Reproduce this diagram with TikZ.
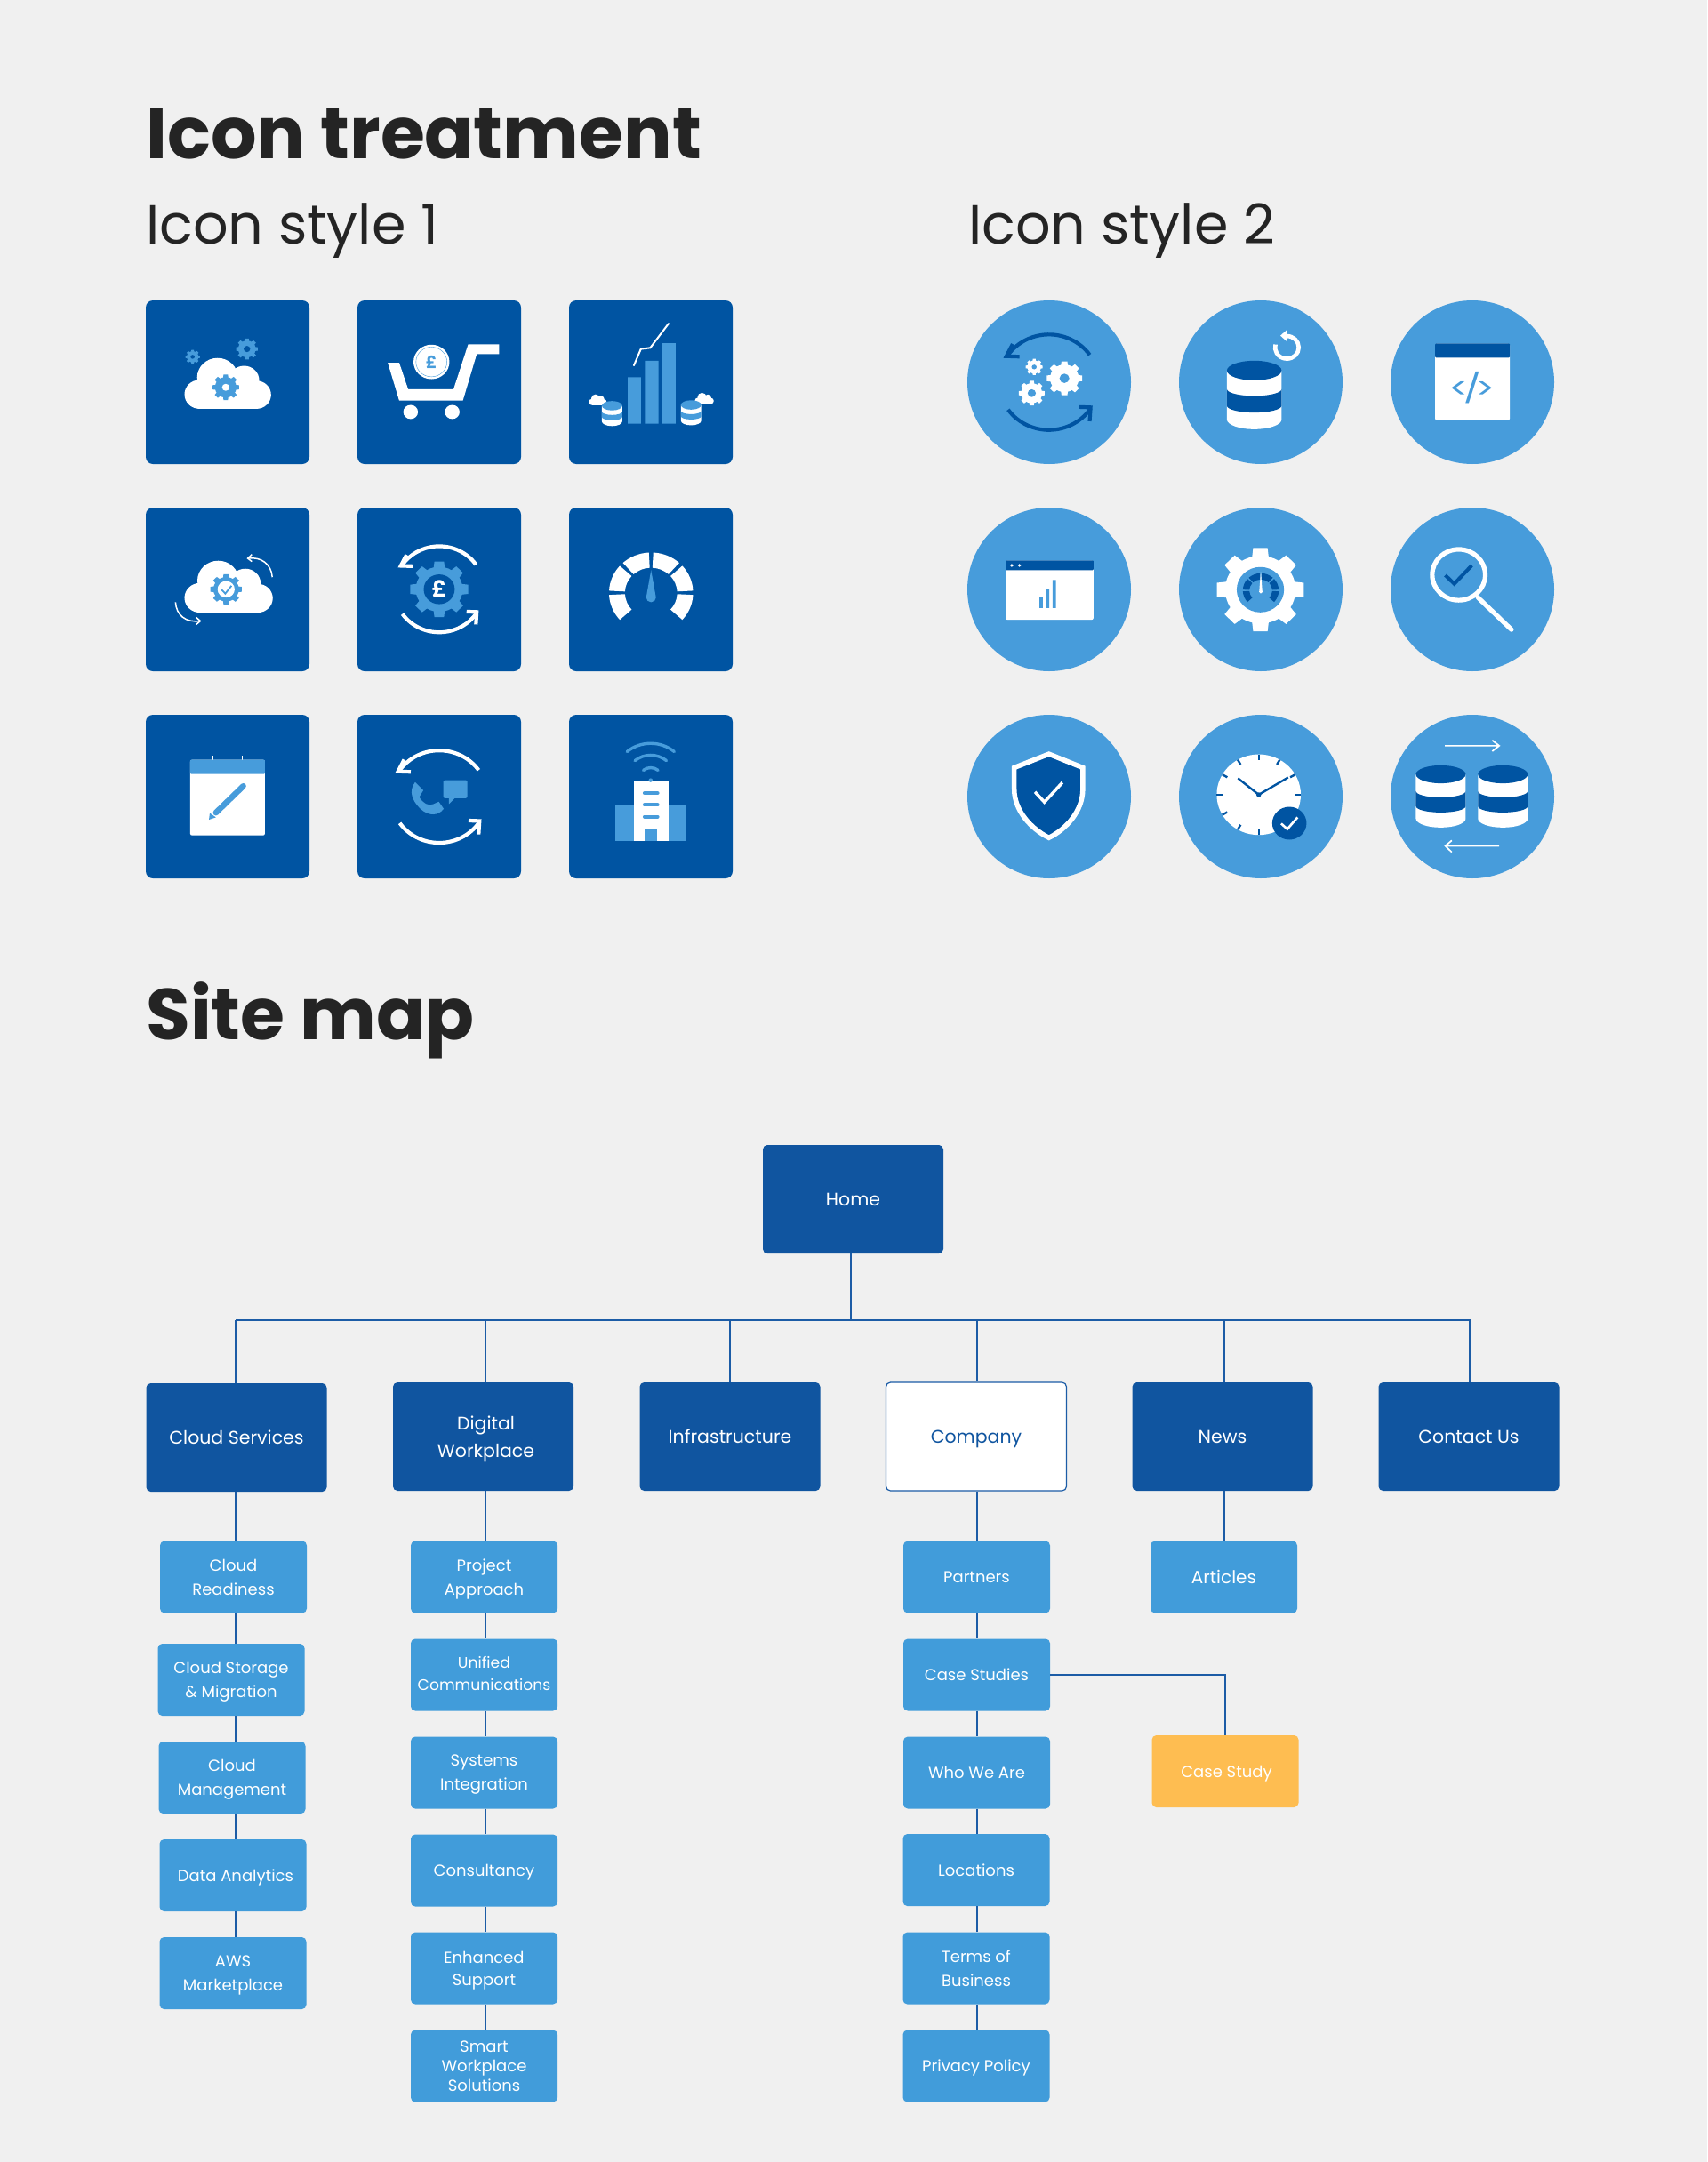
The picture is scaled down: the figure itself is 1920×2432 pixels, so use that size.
\documentclass[tikz,border=0pt]{standalone}
\usepackage{fontspec}
\setmainfont{Poppins}
\definecolor{pagegrey}{HTML}{F0F0F0}
\definecolor{inkgrey}{HTML}{242424}
\definecolor{tileblue}{HTML}{0054A2}
\definecolor{skyblue}{HTML}{479CDB}
\definecolor{navybox}{HTML}{1055A0}
\definecolor{subblue}{HTML}{419CDA}
\definecolor{caseamber}{HTML}{FEBD51}
\definecolor{linkblue}{HTML}{1C5CA6}
\tikzset{
  heading/.style={anchor=base west,inner sep=0pt,text=inkgrey},
  icontile/.style={fill=tileblue,rounded corners=8pt,minimum size=184pt,inner sep=0pt},
  icondisc/.style={fill=skyblue,circle,minimum size=184pt,inner sep=0pt},
  mainbox/.style={fill=navybox,text=white,rounded corners=5pt,minimum width=203pt,minimum height=122pt,inner sep=0pt,align=center,text depth=-2pt,font=\fontsize{20.5}{31}\selectfont},
  companybox/.style={mainbox,fill=white,draw=linkblue,line width=1.2pt,text=navybox},
  subbox/.style={fill=subblue,text=white,rounded corners=5pt,minimum width=165pt,minimum height=81pt,inner sep=0pt,align=center,text depth=0pt,font=\fontsize{18}{27}\selectfont},
  tightbox/.style={subbox,font=\fontsize{18}{25}\selectfont},
  casebox/.style={subbox,fill=caseamber},
  link/.style={draw=linkblue,line width=2.4pt},
  thinline/.style={line width=1.5pt,white},
}
% gear: x, y, teeth, radius, colour, hole colour, hole radius
\newcommand{\gearicon}[7]{%
  \fill[#5] (#1,#2) circle ({0.8*#4});
  \foreach \gearno in {1,...,#3} {
    \fill[#5,shift={(#1,#2)}] ({\gearno*360/#3-120/#3}:{0.75*#4}) -- ({\gearno*360/#3-75/#3}:#4)
      -- ({\gearno*360/#3+75/#3}:#4) -- ({\gearno*360/#3+120/#3}:{0.75*#4}) -- cycle;
  }
  \fill[#6] (#1,#2) circle (#7);
}
% cloud: left, top, scale, colour
\newcommand{\cloudicon}[4]{%
  \begin{scope}[shift={(#1,#2)},scale=#3]
    \fill[#4] (37,93) circle (37) (81,50) circle (50) (146,57) circle (37) (176,94) circle (36);
    \fill[#4] (37,50) rectangle (176,130);
  \end{scope}
}
% database: x, top y, x radius, y radius, height, colour
\newcommand{\dbstack}[6]{%
  \fill[white] ({#1-#3},#2) -- ({#1-#3},{#2+#5}) arc[start angle=180,end angle=0,x radius=#3,y radius=#4] -- ({#1+#3},#2) -- cycle;
  \fill[#6] ({#1-#3},{#2+.38*#5}) -- ({#1-#3},{#2+.72*#5}) arc[start angle=180,end angle=0,x radius=#3,y radius={.7*#4}]
    -- ({#1+#3},{#2+.38*#5}) arc[start angle=0,end angle=180,x radius=#3,y radius={.7*#4}] -- cycle;
  \fill[#6] (#1,#2) ellipse [x radius=#3,y radius=#4];
}
% two arcs with open heads: x, y, radius, colour
\newcommand{\syncarrows}[4]{%
  \begin{scope}[shift={(#1,#2)},scale={#3/110},draw=#4,line width=4.2pt]
    \draw (-35:110) arc[start angle=-35,end angle=-146,radius=110];
    \draw (145:110) arc[start angle=145,end angle=33,radius=110];
    \draw (-65,-59) -- (-94,-60) -- (-80,-88);
    \draw (67,57) -- (92,58) -- (90,90);
  \end{scope}
}
% dial: x, y, outer, inner, colour, needle colour, needle length, needle foot
\newcommand{\gaugeicon}[8]{%
  \foreach \segstart in {135,180,225,270,315,360} {
    \fill[#5,shift={(#1,#2)}] ({\segstart+3}:#3) arc[start angle={\segstart+3},end angle={\segstart+42},radius=#3]
      -- ({\segstart+42}:#4) arc[start angle={\segstart+42},end angle={\segstart+3},radius=#4] -- cycle;
  }
  \fill[#6] (#1,{#2-#7}) -- ({#1-#8},{#2+#8}) arc[start angle=180,end angle=0,radius=#8] -- cycle;
}
\begin{document}
\begin{tikzpicture}[x=1pt,y=-1pt]
  \useasboundingbox (0,0) rectangle (1920,2432);
  \fill[pagegrey] (0,0) rectangle (1920,2432);

  \node[heading,font=\fontsize{81}{81}\selectfont\bfseries] (titleicons) at (164,179) {Icon treatment};
  \node[heading,font=\fontsize{62}{62}\selectfont] (titlestyleone) at (164,274) {Icon style 1};
  \node[heading,font=\fontsize{62}{62}\selectfont] (titlestyletwo) at (1089,274) {Icon style 2};
  \node[heading,font=\fontsize{81}{81}\selectfont\bfseries] (titlemap) at (164,1169) {Site map};

  \foreach \y/\row in {430/1,663/2,896/3} {
    \foreach \x/\col in {256/a,494/b,732/c} \node[icontile] (tile-\col\row) at (\x,\y) {};
    \foreach \x/\col in {1180/a,1418/b,1656/c} \node[icondisc] (disc-\col\row) at (\x,\y) {};
  }

  % style 1 icons
  \begin{scope}[shift={(140,320)},xscale=.4591,yscale=.4401]
    % cloud and gears
    \cloudicon{147}{188}{1}{white}
    \gearicon{248}{263}{8}{33}{skyblue}{white}{9}
    \gearicon{300}{165}{8}{27}{skyblue}{tileblue}{8}
    \gearicon{167}{185}{8}{18}{skyblue}{tileblue}{5}
    % trolley
    \fill[white] (645,200) -- (673,200) -- (695,268) -- (806,268) -- (842,153) -- (918,153) -- (918,178) -- (863,178) -- (829,297) -- (673,297) -- cycle;
    \fill[white] (701,326) circle (18) (803,326) circle (18) (752,198) circle (44);
    \draw[skyblue,line width=.4pt] (752,198) circle (38);
    \node[text=skyblue,inner sep=0pt,font=\fontsize{19}{19}\selectfont\bfseries] (coinpound) at (752,199) {£};
    % bars
    \fill[skyblue] (1233,237) rectangle (1265,356) (1275,195) rectangle (1308,356) (1318,150) rectangle (1350,356);
    \draw[white,line width=2pt,line cap=round] (1248,207) -- (1265,165) -- (1288,162) -- (1333,100);
    \cloudicon{1137}{281}{.21}{white}
    \cloudicon{1397}{277}{.22}{white}
    \dbstack{1194.5}{310}{25}{12}{40}{skyblue}
    \dbstack{1388}{308}{25}{12}{40}{skyblue}
    % cloud with turning arrows
    \cloudicon{147}{706}{1.02}{white}
    \gearicon{249}{779}{8}{39}{skyblue}{white}{21}
    \draw[skyblue,line width=1.8pt] (238,780) -- (247,790) -- (262,770);
    \draw[thinline] (362,748) .. controls (360,715) and (335,695) .. (302,700);
    \draw[thinline] (312,690) -- (302,700) -- (312,708);
    \draw[thinline] (125,812) .. controls (127,845) and (150,865) .. (185,860);
    \draw[thinline] (176,851) -- (186,860) -- (176,869);
    % pound gear
    \syncarrows{771}{779}{110}{white}
    \gearicon{771}{779}{8}{72}{skyblue}{tileblue}{38}
    \node[text=white,inner sep=0pt,font=\fontsize{25}{25}\selectfont\bfseries] (gearpound) at (771,778) {£};
    % dial
    \gaugeicon{1290}{788}{103}{64}{white}{skyblue}{58}{12}
    % calendar
    \draw[white,line width=.9pt] (216,1205) -- (216,1220) (289,1205) -- (289,1220);
    \fill[white,rounded corners=2pt] (161,1215) rectangle (344,1408);
    \fill[skyblue,rounded corners=1pt] (161,1215) rectangle (344,1251);
    \draw[skyblue,line width=6.5pt,line cap=round] (291,1282) -- (224,1350);
    \fill[skyblue] (207,1368) -- (209,1351) -- (224,1362) -- cycle;
    % phone
    \syncarrows{771}{1309}{118}{white}
    \fill[skyblue] (712,1272) -- (732,1293) -- (722,1310) .. controls (730,1325) and (745,1335) .. (757,1328) -- (770,1322) -- (782,1340) .. controls (770,1358) and (745,1360) .. (725,1340) .. controls (705,1320) and (695,1295) .. (712,1272) -- cycle;
    \fill[skyblue,rounded corners=2pt] (781,1267) rectangle (840,1313);
    \fill[skyblue] (795,1310) -- (795,1328) -- (812,1310) -- cycle;
    % building
    \fill[skyblue] (1203,1330) rectangle (1376,1423);
    \fill[white] (1247,1267) rectangle (1333,1423);
    \fill[skyblue] (1275,1393) rectangle (1304,1423);
    \draw[skyblue,line width=4pt,line cap=round] (1274,1300) -- (1306,1300) (1274,1330) -- (1306,1330) (1274,1360) -- (1306,1360);
    \fill[skyblue] (1289,1267) circle (5);
    \foreach \wave in {28,60,90} {
      \draw[skyblue,line width=3.4pt,line cap=round,shift={(1289,1263)}] (-130:\wave) arc[start angle=-130,end angle=-50,radius=\wave];
    }
  \end{scope}

  % style 2 icons
  \begin{scope}[shift={(1070,320)},xscale=.4591,yscale=.4401]
    % gears and arrows
    \syncarrows{239}{250}{122}{tileblue}
    \gearicon{277}{240}{8}{44}{white}{skyblue}{12}
    \gearicon{203}{211}{8}{21}{white}{skyblue}{6}
    \gearicon{197}{278}{8}{32}{white}{skyblue}{10}
    % database refresh
    \dbstack{742}{220}{67}{25}{125}{tileblue}
    \draw[white,line width=4.6pt] (822,132) arc[start angle=-90,end angle=195,radius=29];
    \fill[white] (806,131) -- (821,117) -- (821,145) -- cycle;
    % code window
    \fill[white,rounded corners=2pt] (1185,151) rectangle (1368,347);
    \fill[tileblue,rounded corners=1pt] (1185,151) rectangle (1368,187);
    \node[text=skyblue,inner sep=0pt,font=\fontsize{32}{32}\selectfont] (codetag) at (1276,263) {\scalebox{1.3}[1]{<\kern-5pt/\kern-5pt>}};
    % chart window
    \fill[white,rounded corners=2pt] (133,705) rectangle (348,857);
    \fill[tileblue,rounded corners=1pt] (133,705) rectangle (348,730);
    \fill[white] (148,718) circle (4) (167,718) circle (4);
    \fill[skyblue] (216,800) rectangle (224,827) (232,778) rectangle (240,827) (248,755) rectangle (256,827);
    % gear dial
    \gearicon{757}{780}{8}{108}{white}{skyblue}{58}
    \gaugeicon{758}{782}{44}{28}{tileblue}{white}{48}{4}
    % magnifier
    \draw[white,line width=5.2pt] (1243,742) circle (65);
    \draw[white,line width=5.2pt,line cap=round] (1290,800) -- (1372,882);
    \draw[tileblue,line width=4pt] (1210,743) -- (1232,765) -- (1275,718);
    % shield
    \draw[white,fill=tileblue,line width=5.5pt] (239,1200) -- (322,1235) -- (322,1290) .. controls (322,1345) and (282,1392) .. (239,1414) .. controls (196,1392) and (154,1345) .. (154,1290) -- (154,1235) -- cycle;
    \draw[white,line width=3.5pt] (205,1297) -- (228,1323) -- (272,1273);
    % clock
    \fill[white] (753,1304) circle (103);
    \foreach \tick in {0,30,...,330} {
      \draw[tileblue,line width=2.4pt,shift={(753,1304)}] (\tick:89) -- (\tick:103);
    }
    \draw[tileblue,line width=2.4pt] (702,1262) -- (753,1304) -- (825,1260);
    \fill[tileblue] (753,1304) circle (6) (828,1377) circle (42);
    \draw[white,line width=2.6pt] (808,1378) -- (823,1392) -- (848,1362);
    % two databases
    \dbstack{1199}{1252}{61}{23}{113}{tileblue}
    \dbstack{1351}{1252}{61}{23}{113}{tileblue}
    \draw[white,line width=1.7pt] (1209,1179) -- (1342,1179) (1325,1165) -- (1342,1179) -- (1325,1193);
    \draw[white,line width=1.7pt] (1342,1435) -- (1210,1435) (1226,1421) -- (1210,1435) -- (1226,1451);
  \end{scope}

  % site map
  \node[mainbox] (home) at (959.5,1349) {Home};
  \node[mainbox] (cloudservices) at (266,1617) {Cloud Services};
  \node[mainbox] (digital) at (543.5,1616) {\hspace*{6pt}Digital\\\hspace*{6pt}Workplace};
  \node[mainbox] (infrastructure) at (821,1616) {Infrastructure};
  \node[companybox] (company) at (1098,1616) {Company};
  \node[mainbox] (news) at (1375,1616) {News};
  \node[mainbox] (contact) at (1652,1616) {Contact Us};

  \node[subbox] (readiness) at (262.5,1774) {Cloud\\Readiness};
  \node[subbox] (storage) at (260,1889.5) {Cloud Storage\\\& Migration};
  \node[subbox] (management) at (261,1999.5) {Cloud\\Management};
  \node[subbox] (analytics) at (262,2109.5) {\hspace*{6pt}Data Analytics};
  \node[subbox] (marketplace) at (262,2219.5) {AWS\\Marketplace};

  \node[subbox] (approach) at (544.5,1774) {Project\\Approach};
  \node[tightbox,text depth=3pt,font=\fontsize{17.2}{25}\selectfont] (unified) at (544.5,1884) {Unified\\Communications};
  \node[subbox] (systems) at (544.5,1994) {Systems\\Integration};
  \node[subbox] (consultancy) at (544.5,2104) {Consultancy};
  \node[tightbox] (support) at (544.5,2214) {Enhanced\\Support};
  \node[tightbox,font=\fontsize{18}{22}\selectfont] (smart) at (544.5,2324) {Smart\\Workplace\\Solutions};

  \node[subbox] (partners) at (1098.5,1774) {Partners};
  \node[subbox] (casestudies) at (1098.5,1884) {Case Studies};
  \node[subbox] (whoweare) at (1098.5,1994) {Who We Are};
  \node[subbox] (locations) at (1098,2103.5) {Locations};
  \node[subbox] (terms) at (1098,2214) {Terms of\\Business};
  \node[subbox] (privacy) at (1098,2324) {Privacy Policy};

  \node[subbox,font=\fontsize{20}{27}\selectfont] (articles) at (1376.5,1774) {Articles};
  \node[casebox] (casestudy) at (1378,1992.5) {\hspace*{3pt}Case Study};

  \coordinate (trunkcloud) at (265.3,1485);
  \coordinate (trunkdigital) at (545.7,1485);
  \coordinate (trunkinfra) at (820.7,1485);
  \coordinate (trunkhome) at (956.8,1485);
  \coordinate (trunkcompany) at (1099,1485);
  \coordinate (trunknews) at (1376.5,1485);
  \coordinate (trunkcontact) at (1653.5,1485);

  \draw[link] (trunkcloud) -- (trunkcontact);
  \draw[link] (trunkhome) -- (trunkhome |- home.south);
  \foreach \trunk/\target in {trunkcloud/cloudservices,trunkdigital/digital,trunkinfra/infrastructure,trunkcompany/company,trunknews/news,trunkcontact/contact} {
    \draw[link] (\trunk) -- (\trunk |- \target.north);
  }
  \foreach \trunk/\above/\below in {trunkcloud/cloudservices/readiness,trunkcloud/readiness/storage,trunkcloud/storage/management,trunkcloud/management/analytics,trunkcloud/analytics/marketplace,
    trunkdigital/digital/approach,trunkdigital/approach/unified,trunkdigital/unified/systems,trunkdigital/systems/consultancy,trunkdigital/consultancy/support,trunkdigital/support/smart,
    trunkcompany/company/partners,trunkcompany/partners/casestudies,trunkcompany/casestudies/whoweare,trunkcompany/whoweare/locations,trunkcompany/locations/terms,trunkcompany/terms/privacy,
    trunknews/news/articles} {
    \draw[link] (\trunk |- \above.south) -- (\trunk |- \below.north);
  }
  \draw[link] (casestudies.east) -| (casestudy.north);
\end{tikzpicture}
\end{document}
